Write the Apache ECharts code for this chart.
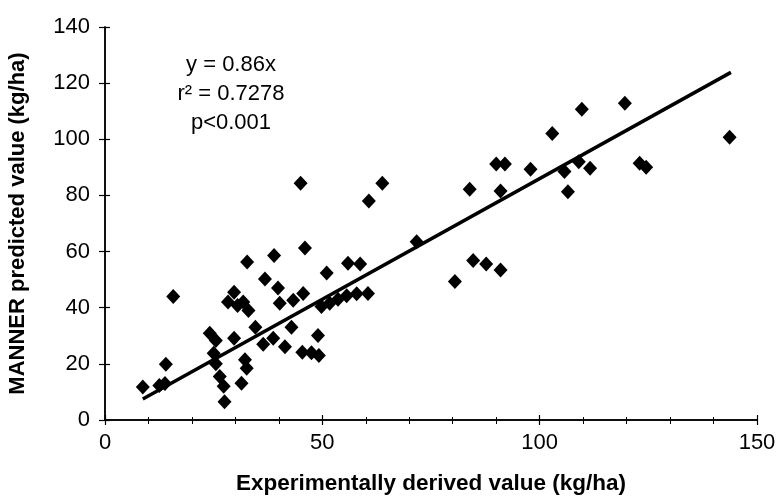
<!DOCTYPE html>
<html>
<head>
<meta charset="utf-8">
<script src="https://cdn.jsdelivr.net/npm/echarts@6/dist/echarts.min.js"></script>
<style>html,body{margin:0;padding:0;background:#fff}#c{width:777px;height:498px}</style>
</head>
<body>
<div id="c"></div>
<script>
// Experimentally derived value (kg/ha)
const expX = [8.7, 12.5, 13.8, 14.0, 15.7,
  24.1, 25.5, 25.0, 25.5, 26.4, 27.3, 27.5,
  28.3, 29.7, 30.5, 31.8, 33.0, 29.7, 31.4, 32.2, 32.6, 32.7, 34.6,
  36.8, 36.4, 38.7, 38.9, 39.8, 40.2, 41.4, 42.9, 43.3, 45.6, 45.0, 46.0, 45.4, 47.5, 49.2, 49.0, 49.8,
  51.0, 51.7, 53.6, 55.6, 57.9, 60.5, 55.9, 58.7, 60.7, 63.8,
  71.7, 80.5, 83.9, 84.7, 87.7, 91.0, 90.0, 92.0, 91.0, 97.9, 102.9, 105.7, 106.5, 109.0, 109.7, 111.6, 119.6, 123.0, 124.5, 143.7];
// MANNER predicted value (kg/ha)
const predY = [11.8, 12.3, 13.0, 19.9, 44.0,
  30.9, 28.3, 23.8, 20.0, 15.5, 12.0, 6.5,
  42.0, 45.5, 40.8, 42.0, 39.0, 29.1, 13.1, 21.5, 18.4, 56.3, 33.0,
  50.2, 27.0, 29.1, 58.6, 47.0, 41.6, 26.1, 33.0, 42.7, 45.1, 84.3, 61.3, 24.1, 24.0, 23.0, 30.1, 40.4,
  52.4, 41.6, 43.0, 44.3, 45.0, 45.1, 55.8, 55.6, 78.0, 84.3,
  63.5, 49.3, 82.2, 56.8, 55.6, 53.4, 91.2, 91.2, 81.6, 89.3, 102.1, 88.5, 81.3, 92.0, 110.7, 89.7, 112.8, 91.5, 90.0, 100.7];
// Fitted line y = slope * x over the data range
const slope = 0.86;
const fitRange = [8.7, 144];
const xTicks = [0, 50, 100, 150];
const yTicks = [0, 20, 40, 60, 80, 100, 120, 140];
const statLines = ['y = 0.86x', 'r² = 0.7278', 'p<0.001'];

const pts = expX.map((x, i) => [x, predY[i]]);
const fit = fitRange.map(x => [x, slope * x]);

const font = 'Liberation Sans, Arial, sans-serif';
const chart = echarts.init(document.getElementById('c'), null, {renderer: 'canvas'});
const baseX = {
  type: 'value', min: xTicks[0], max: xTicks[xTicks.length - 1], interval: 50,
  position: 'bottom', offset: 0,
  axisLine: {show: true, onZero: false, lineStyle: {color: '#000', width: 1.5}},
  splitLine: {show: false}
};
const baseY = {
  type: 'value', min: yTicks[0], max: yTicks[yTicks.length - 1], interval: 20,
  position: 'left', offset: 0,
  axisLine: {show: true, onZero: false, lineStyle: {color: '#000', width: 1.5}},
  splitLine: {show: false}
};
chart.setOption({
  animation: false,
  backgroundColor: '#fff',
  grid: {left: 105, right: 20, top: 27, bottom: 78, containLabel: false, outerBoundsMode: 'none'},
  xAxis: [
    Object.assign({}, baseX, {
      name: 'Experimentally derived value (kg/ha)', nameLocation: 'middle', nameGap: 52,
      nameTextStyle: {fontFamily: font, fontSize: 22.5, fontWeight: 'bold', color: '#000'},
      axisTick: {show: true, inside: false, length: 5, lineStyle: {color: '#000', width: 1.2}},
      minorTick: {show: true, splitNumber: 5, length: 4, lineStyle: {color: '#000', width: 1}},
      axisLabel: {fontFamily: font, fontSize: 22, color: '#000', margin: 12}
    }),
    Object.assign({}, baseX, {
      axisTick: {show: true, inside: true, length: 5, lineStyle: {color: '#000', width: 1.2}},
      minorTick: {show: true, splitNumber: 5, length: 3, lineStyle: {color: '#000', width: 1}},
      axisLabel: {show: false}
    })
  ],
  yAxis: [
    Object.assign({}, baseY, {
      name: 'MANNER predicted value (kg/ha)', nameLocation: 'middle', nameGap: 76, nameRotate: 90,
      nameTextStyle: {fontFamily: font, fontSize: 22, fontWeight: 'bold', color: '#000'},
      axisTick: {show: true, inside: false, length: 6, lineStyle: {color: '#000', width: 1.2}},
      axisLabel: {fontFamily: font, fontSize: 22, color: '#000', margin: 15}
    }),
    Object.assign({}, baseY, {
      axisTick: {show: true, inside: true, length: 5, lineStyle: {color: '#000', width: 1.2}},
      axisLabel: {show: false}
    })
  ],
  graphic: statLines.map((t, i) => ({
    type: 'text',
    style: {text: t, x: 231, y: 65 + i * 29, align: 'center', verticalAlign: 'middle',
      font: '22px ' + font, fill: '#000'}
  })),
  series: [
    {
      type: 'scatter', xAxisIndex: 0, yAxisIndex: 0, data: pts,
      symbol: 'diamond', symbolSize: [14, 15],
      itemStyle: {color: '#000', opacity: 1}, z: 3
    },
    {
      type: 'line', xAxisIndex: 0, yAxisIndex: 0, data: fit,
      symbol: 'none', lineStyle: {color: '#000', width: 3.5}, z: 2
    }
  ]
});
</script>
</body>
</html>
